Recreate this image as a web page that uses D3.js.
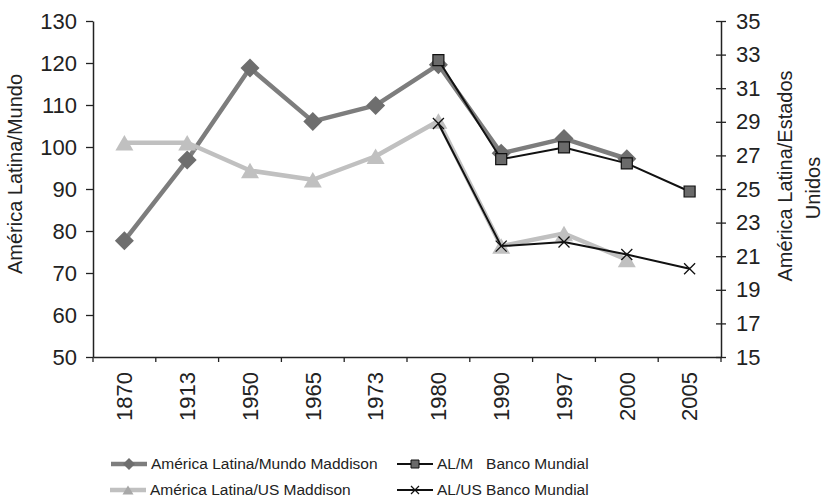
<!DOCTYPE html>
<html>
<head>
<meta charset="utf-8">
<script src="https://cdn.jsdelivr.net/npm/d3@7/dist/d3.min.js"></script>
<style>
  html, body { margin: 0; padding: 0; background: #fff; }
  svg { display: block; font-family: "Liberation Sans", Arial, sans-serif; }
</style>
</head>
<body>
<svg id="chart" width="825" height="498"></svg>
<script>
// Periods on the horizontal axis
const years = ["1870", "1913", "1950", "1965", "1973", "1980", "1990", "1997", "2000", "2005"];

// América Latina / Mundo (Maddison), left axis
const maddisonMundo = [77.7, 96.9, 118.8, 106.1, 109.9, 119.6, 98.5, 102.0, 97.2, null];
// América Latina / Estados Unidos (Maddison), right axis
const maddisonUS = [27.75, 27.75, 26.1, 25.55, 26.95, 29.05, 21.6, 22.35, 20.8, null];
// AL/M Banco Mundial, left axis
const bancoMundo = [null, null, null, null, null, 120.7, 97.1, 99.9, 96.1, 89.4];
// AL/US Banco Mundial, right axis
const bancoUS = [null, null, null, null, null, 28.9, 21.6, 21.85, 21.1, 20.25];

const leftTicks = [50, 60, 70, 80, 90, 100, 110, 120, 130];
const rightTicks = [15, 17, 19, 21, 23, 25, 27, 29, 31, 33, 35];

const svg = d3.select("#chart");
const plot = { left: 93, right: 721, top: 21, bottom: 357 };
const ink = "#222";

const x = d3.scaleBand().domain(years).range([plot.left, plot.right]).padding(0);
const yL = d3.scaleLinear().domain([50, 130]).range([plot.bottom, plot.top]);
const yR = d3.scaleLinear().domain([15, 35]).range([plot.bottom, plot.top]);
const cx = d => x(d) + x.bandwidth() / 2;

// ---- Axes ----
const tickFont = "22px";

const gL = svg.append("g").attr("transform", `translate(${plot.left},0)`)
  .call(d3.axisLeft(yL).tickValues(leftTicks).tickSize(7).tickPadding(9).tickSizeOuter(0));
gL.select(".domain").attr("stroke", ink).attr("stroke-width", 1.5);
gL.selectAll(".tick line").attr("stroke", ink).attr("stroke-width", 1.3);
gL.selectAll(".tick text").attr("fill", ink).style("font-size", tickFont).style("font-family", "Liberation Sans, Arial, sans-serif");

const gR = svg.append("g").attr("transform", `translate(${plot.right},0)`)
  .call(d3.axisRight(yR).tickValues(rightTicks).tickSize(5).tickPadding(10).tickSizeOuter(0));
gR.select(".domain").attr("stroke", ink).attr("stroke-width", 1.5);
gR.selectAll(".tick line").attr("x1", -5).attr("x2", 5).attr("stroke", ink).attr("stroke-width", 1.3);
gR.selectAll(".tick text").attr("fill", ink).style("font-size", tickFont).style("font-family", "Liberation Sans, Arial, sans-serif");

const gB = svg.append("g").attr("transform", `translate(0,${plot.bottom})`)
  .call(d3.axisBottom(x).tickSize(0).tickPadding(0).tickSizeOuter(0));
gB.select(".domain").attr("stroke", ink).attr("stroke-width", 1.5);
gB.selectAll(".tick text")
  .attr("fill", ink)
  .style("font-size", tickFont)
  .style("font-family", "Liberation Sans, Arial, sans-serif")
  .attr("text-anchor", "end")
  .attr("transform", "rotate(-90)")
  .attr("x", -15)
  .attr("y", 0)
  .attr("dy", "0.35em");
// category boundary ticks
const bounds = years.map(d => x(d)).concat([plot.right]);
gB.selectAll("line.bound").data(bounds).join("line")
  .attr("class", "bound")
  .attr("x1", d => d).attr("x2", d => d)
  .attr("y1", 0).attr("y2", 5)
  .attr("stroke", ink).attr("stroke-width", 1.3);

// Axis titles
svg.append("text")
  .attr("transform", `translate(22,174) rotate(-90)`)
  .attr("text-anchor", "middle")
  .attr("fill", ink)
  .style("font-size", "20px")
  .text("América Latina/Mundo");
svg.append("text")
  .attr("transform", `translate(792,176) rotate(-90)`)
  .attr("text-anchor", "middle")
  .attr("fill", ink)
  .style("font-size", "20px")
  .text("América Latina/Estados");
svg.append("text")
  .attr("transform", `translate(820,188) rotate(-90)`)
  .attr("text-anchor", "middle")
  .attr("fill", ink)
  .style("font-size", "20px")
  .text("Unidos");

// ---- Marker shapes ----
const diamondPath = r => `M0,${-r}L${r},0L0,${r}L${-r},0Z`;
const trianglePath = (w, h) => `M0,${-h / 2}L${w / 2},${h / 2}L${-w / 2},${h / 2}Z`;
const squarePath = s => `M${-s / 2},${-s / 2}h${s}v${s}h${-s}Z`;
const crossPath = s => `M${-s / 2},${-s / 2}L${s / 2},${s / 2}M${-s / 2},${s / 2}L${s / 2},${-s / 2}`;

function drawSeries(values, yScale, lineColor, lineWidth, marker) {
  const pts = years.map((d, i) => ({ d, v: values[i] })).filter(p => p.v != null);
  const line = d3.line().x(p => cx(p.d)).y(p => yScale(p.v));
  svg.append("path").datum(pts)
    .attr("d", line)
    .attr("fill", "none")
    .attr("stroke", lineColor)
    .attr("stroke-width", lineWidth)
    .attr("stroke-linejoin", "round");
  svg.append("g").selectAll("path").data(pts).join("path")
    .attr("transform", p => `translate(${cx(p.d)},${yScale(p.v)})`)
    .attr("d", marker.d)
    .attr("fill", marker.fill)
    .attr("stroke", marker.stroke)
    .attr("stroke-width", marker.strokeWidth);
}

const cMundo = "#7d7d7d", cMundoMark = "#6e6e6e";
const cUS = "#c0c0c0";
const cBlack = "#111";

drawSeries(maddisonMundo, yL, cMundo, 4.5, { d: diamondPath(9.5), fill: cMundoMark, stroke: "none", strokeWidth: 0 });
drawSeries(maddisonUS, yR, cUS, 4.5, { d: trianglePath(18, 15.5), fill: cUS, stroke: "none", strokeWidth: 0 });
drawSeries(bancoMundo, yL, cBlack, 2, { d: squarePath(11), fill: "#6a6a6a", stroke: cBlack, strokeWidth: 1.2 });
drawSeries(bancoUS, yR, cBlack, 2, { d: crossPath(11), fill: "none", stroke: cBlack, strokeWidth: 1.3 });

// ---- Legend ----
const legendItems = [
  { label: "América Latina/Mundo Maddison", x0: 111, y: 464, color: cMundo, w: 4.5, m: { d: diamondPath(6), fill: cMundoMark, stroke: "none", sw: 0 } },
  { label: "América Latina/US Maddison", x0: 110, y: 490, color: cUS, w: 4.5, m: { d: trianglePath(11, 9), fill: "#a8a8a8", stroke: "none", sw: 0 } },
  { label: "AL/M   Banco Mundial", x0: 397, y: 464, color: cBlack, w: 2, m: { d: squarePath(8), fill: "#6a6a6a", stroke: cBlack, sw: 1 } },
  { label: "AL/US Banco Mundial", x0: 397, y: 490, color: cBlack, w: 2, m: { d: crossPath(8), fill: "none", stroke: cBlack, sw: 1.2 } }
];
const lg = svg.append("g").selectAll("g").data(legendItems).join("g");
lg.append("line")
  .attr("x1", d => d.x0).attr("x2", d => d.x0 + 36)
  .attr("y1", d => d.y).attr("y2", d => d.y)
  .attr("stroke", d => d.color).attr("stroke-width", d => d.w);
lg.append("path")
  .attr("transform", d => `translate(${d.x0 + 18},${d.y})`)
  .attr("d", d => d.m.d)
  .attr("fill", d => d.m.fill)
  .attr("stroke", d => d.m.stroke)
  .attr("stroke-width", d => d.m.sw);
lg.append("text")
  .attr("x", d => d.x0 + 40)
  .attr("y", d => d.y)
  .attr("dy", "0.35em")
  .attr("fill", ink)
  .style("font-size", "15.5px")
  .style("white-space", "pre")
  .text(d => d.label);
</script>
</body>
</html>
